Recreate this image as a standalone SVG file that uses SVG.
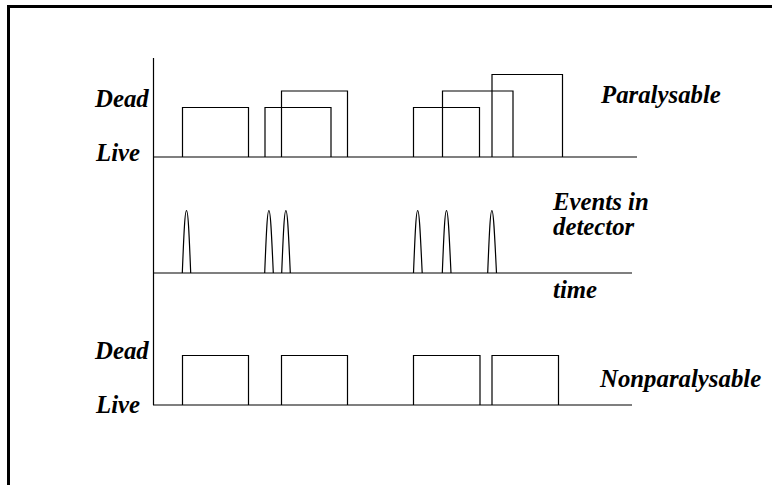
<svg xmlns="http://www.w3.org/2000/svg" width="772" height="485" viewBox="0 0 772 485">
<style>
.ln{fill:none;stroke:#000;stroke-width:1.2}
text{font-family:'Liberation Serif','Times New Roman','DejaVu Serif',serif;font-weight:700;font-style:italic;font-size:24.8px;fill:#000}
</style>
<rect x="0" y="0" width="772" height="485" fill="#fff"/>
<rect x="8.5" y="6.5" width="770" height="490" fill="none" stroke="#000" stroke-width="3"/>
<g id="axis"><line class="ln" x1="153.5" y1="58" x2="153.5" y2="405"/></g>
<g id="paralysable">
<line class="ln" x1="153" y1="157" x2="637" y2="157"/>
<path class="ln" d="M182.5 157V107.5H248.5V157"/>
<path class="ln" d="M265 157V107.5H331V157"/>
<path class="ln" d="M281.5 157V91H347.5V157"/>
<path class="ln" d="M413.5 157V107.5H479.5V157"/>
<path class="ln" d="M442.5 157V91H513V157"/>
<path class="ln" d="M492 157V74.5H562.5V157"/>
<text x="95" y="107">Dead</text>
<text x="96" y="161">Live</text>
<text x="601" y="103">Paralysable</text>
</g>
<g id="events">
<line class="ln" x1="153" y1="273" x2="632" y2="273"/>
<path class="ln" d="M182.3 273C184 230 185 210.5 186.5 210.5C188 210.5 189 230 190.7 273"/>
<path class="ln" d="M264.7 273C266.4 230 267.4 210.5 268.9 210.5C270.4 210.5 271.4 230 273.3 273"/>
<path class="ln" d="M281.7 273C283.4 230 284.4 210.5 285.9 210.5C287.4 210.5 288.4 230 290.3 273"/>
<path class="ln" d="M413.5 273C415.2 230 416.2 210.5 417.7 210.5C419.2 210.5 420.2 230 422.2 273"/>
<path class="ln" d="M442.3 273C444 230 445 210.5 446.5 210.5C448 210.5 449 230 451 273"/>
<path class="ln" d="M487.7 273C489.4 230 490.4 210.5 491.9 210.5C493.4 210.5 494.4 230 496.5 273"/>
<text x="553" y="210">Events in</text>
<text x="553" y="235">detector</text>
<text x="553" y="298">time</text>
</g>
<g id="nonparalysable">
<line class="ln" x1="153" y1="405" x2="632" y2="405"/>
<path class="ln" d="M182.5 405V355.5H248.5V405"/>
<path class="ln" d="M281.5 405V355.5H347.5V405"/>
<path class="ln" d="M413.5 405V355.5H480V405"/>
<path class="ln" d="M492 405V355.5H558.5V405"/>
<text x="95" y="359">Dead</text>
<text x="96" y="413">Live</text>
<text x="600" y="387">Nonparalysable</text>
</g>
</svg>
